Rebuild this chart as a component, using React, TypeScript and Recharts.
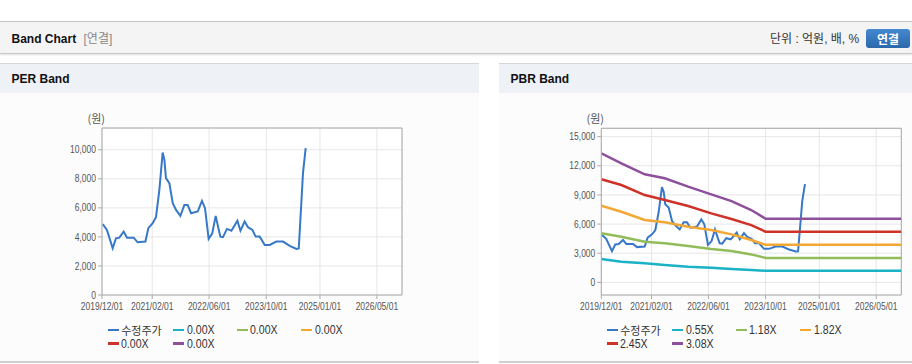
import React from 'react';
import { LineChart, Line, XAxis, YAxis, CartesianGrid, ReferenceLine } from 'recharts';

// adjusted close price (수정주가)
const priceDates = [
  '2019-12-07', '2020-01-12', '2020-03-01', '2020-03-29', '2020-04-27', '2020-06-03', '2020-07-01',
  '2020-08-27', '2020-09-30', '2020-12-05', '2020-12-30', '2021-02-05', '2021-03-05', '2021-04-03',
  '2021-05-01', '2021-05-16', '2021-05-29', '2021-06-27', '2021-07-26', '2021-08-23', '2021-09-29',
  '2021-11-02', '2021-11-30', '2021-12-29', '2022-02-24', '2022-04-01', '2022-04-27', '2022-05-28',
  '2022-06-28', '2022-07-27', '2022-08-16', '2022-09-05', '2022-09-27', '2022-10-31', '2022-12-08',
  '2023-01-28', '2023-02-23', '2023-03-31', '2023-04-28', '2023-06-05', '2023-07-03', '2023-08-06',
  '2023-09-18', '2023-10-30', '2023-12-26', '2024-02-21', '2024-04-18', '2024-06-14', '2024-07-04',
  '2024-07-21', '2024-08-09', '2024-09-01',
];
const priceValues = [
  4880, 4480, 3220, 3900, 3950, 4370, 3950,
  3950, 3630, 3680, 4600, 4940, 5360, 7240,
  9810, 9310, 8050, 7700, 6320, 5860, 5450,
  6200, 6200, 5630, 5750, 6480, 5980, 3860,
  4250, 5450, 4710, 4020, 3980, 4550, 4430,
  5120, 4430, 5060, 4670, 4480, 4020, 4020,
  3450, 3450, 3680, 3680, 3380, 3170, 3200,
  5630, 8390, 10120,
];

// PBR band lines (price = BPS x multiple)
const bandDates = [
  '2019-12-01', '2020-05-20', '2020-12-05', '2021-05-25', '2021-12-10',
  '2022-06-25', '2022-12-15', '2023-06-01', '2023-10-01', '2026-12-01',
];
const band055 = [2400, 2120, 1960, 1780, 1610, 1500, 1370, 1270, 1190, 1190];
const band118 = [5050, 4700, 4180, 4020, 3740, 3430, 3220, 2880, 2520, 2520];
const band182 = [7890, 7270, 6420, 6180, 5730, 5390, 4940, 4360, 3860, 3860];
const band245 = [10610, 10020, 8990, 8480, 7860, 7100, 6520, 5900, 5220, 5220];
const band308 = [13280, 12260, 11120, 10710, 9850, 9060, 8370, 7450, 6550, 6550];

const xTickLabels = ['2019/12/01', '2021/02/01', '2022/06/01', '2023/10/01', '2025/01/01', '2026/05/01'];
const xDomainLabels = ['2019/12/01', '2026/12/01'];
const perYTicks = [0, 2000, 4000, 6000, 8000, 10000];
const pbrYTicks = [0, 3000, 6000, 9000, 12000, 15000];

const colors = ['#3778c8', '#1ab2c4', '#92bc5a', '#f3a834', '#ce3228', '#8e509c'];
const perLegend = ['수정주가', '0.00X', '0.00X', '0.00X', '0.00X', '0.00X'];
const pbrLegend = ['수정주가', '0.55X', '1.18X', '1.82X', '2.45X', '3.08X'];

const toTime = (d: string) => new Date(d.replace(/\//g, '-') + 'T00:00:00Z').getTime();
const pad = (n: number) => (n < 10 ? '0' + n : '' + n);
const fmtDate = (t: number) => {
  const d = new Date(t);
  return `${d.getUTCFullYear()}/${pad(d.getUTCMonth() + 1)}/${pad(d.getUTCDate())}`;
};
const fmtNum = (v: number) => v.toLocaleString('en-US');

const priceData = priceDates.map((d, i) => ({ t: toTime(d), v: priceValues[i] }));
const bands = [band055, band118, band182, band245, band308].map((vals) =>
  bandDates.map((d, i) => ({ t: toTime(d), v: vals[i] }))
);
const xTicks = xTickLabels.map(toTime);
const xDomain = xDomainLabels.map(toTime);

const sans = "'Liberation Sans', Arial, 'Noto Sans CJK KR', sans-serif";
const axisGray = '#aaaaaa';

// condensed tick text, the original uses a narrow bitmap-ish font
const XTick = (props: any) => {
  const { x, y, payload } = props;
  return (
    <text transform={`translate(${x},${y}) scale(0.85,1)`} textAnchor="middle" dy={9.5}
      fontSize={10} fill="#555" fontFamily={sans}>
      {fmtDate(payload.value)}
    </text>
  );
};
const YTick = (props: any) => {
  const { x, y, payload } = props;
  return (
    <text transform={`translate(${x},${y}) scale(0.85,1)`} textAnchor="end" dy={3.6}
      fontSize={10} fill="#555" fontFamily={sans}>
      {fmtNum(payload.value)}
    </text>
  );
};

const Legend6 = ({ labels, left }: { labels: string[]; left: number }) => {
  const widths = [65.5, 63.5, 64.5, 64];
  const rows = [labels.slice(0, 4), labels.slice(4)];
  return (
    <div style={{ position: 'absolute', left, top: 323, fontFamily: sans, fontSize: 12, color: '#333' }}>
      {rows.map((row, r) => (
        <div key={r} style={{ display: 'flex', height: 13.7, alignItems: 'center' }}>
          {row.map((label, i) => (
            <div key={i} style={{ width: widths[i], display: 'flex', alignItems: 'center', whiteSpace: 'nowrap' }}>
              <span style={{ display: 'inline-block', width: 11, height: 2.5, background: colors[r * 4 + i], marginRight: 2.5 }} />
              <span style={{ display: 'inline-block', fontSize: label === '수정주가' ? 11 : 12, transform: label === '수정주가' ? 'none' : 'scaleX(0.88)', transformOrigin: 'left center' }}>{label}</span>
            </div>
          ))}
        </div>
      ))}
    </div>
  );
};

const Panel = ({ left, width, title }: { left: number; width: number; title: string }) => (
  <div style={{ position: 'absolute', left, top: 63, width, height: 300, background: '#fcfcfc', borderTop: '1px solid #d6d6d6', borderBottom: '2px solid #d0d0d0', boxSizing: 'border-box' }}>
    <div style={{ height: 29, background: '#eef2f7', fontFamily: sans, fontWeight: 'bold', fontSize: 12, color: '#111', lineHeight: '30px', paddingLeft: 11.5 }}>
      {title}
    </div>
  </div>
);

const UnitLabel = ({ left }: { left: number }) => (
  <div style={{ position: 'absolute', left, top: 111, fontFamily: "'Noto Sans CJK KR', sans-serif", fontSize: 11, color: '#555', lineHeight: '14px' }}>
    (원)
  </div>
);

const App: React.FC = () => {
  return (
    <div style={{ position: 'absolute', left: 0, top: 0, width: 912, height: 364, background: '#fff', overflow: 'hidden' }}>
      {/* top header bar */}
      <div style={{ position: 'absolute', left: 0, top: 21, width: 912, height: 31, background: '#f4f4f4', borderTop: '1px solid #c4c4c4', borderBottom: '1px solid #c8c8c8', boxShadow: '0 1px 2px rgba(0,0,0,0.12)' }} />
      <div style={{ position: 'absolute', left: 11.5, top: 31, fontFamily: sans, fontWeight: 'bold', fontSize: 12, color: '#111', lineHeight: '16px' }}>
        Band Chart <span style={{ fontWeight: 'normal', color: '#888', marginLeft: 4 }}>[연결]</span>
      </div>
      <div style={{ position: 'absolute', left: 770, top: 31, fontFamily: sans, fontSize: 12, color: '#333', lineHeight: '16px', whiteSpace: 'nowrap' }}>
        단위 : 억원, 배, %
      </div>
      <div style={{ position: 'absolute', left: 866, top: 28.5, width: 44, height: 19, borderRadius: 3, background: 'linear-gradient(#4489cf, #2a68ab)', color: '#fff', fontFamily: "'Noto Sans CJK KR', sans-serif", fontWeight: 'bold', fontSize: 12, lineHeight: '19px', textAlign: 'center' }}>
        연결
      </div>

      <Panel left={0} width={479} title="PER Band" />
      <Panel left={499} width={413} title="PBR Band" />

      {/* PER chart */}
      <UnitLabel left={87.5} />
      <div style={{ position: 'absolute', left: 0, top: 100 }}>
        <LineChart width={479} height={220} margin={{ top: 28, right: 77, bottom: 0, left: 0 }}>
          <CartesianGrid stroke="#e6e6e6" fill="#ffffff" />
          <XAxis dataKey="t" type="number" domain={xDomain} ticks={xTicks}
            allowDataOverflow height={25} stroke={axisGray} tickSize={4} tickMargin={2} tick={<XTick />} interval={0} />
          <YAxis type="number" domain={[0, 11500]} ticks={perYTicks} allowDataOverflow width={102}
            stroke={axisGray} tickSize={4} tickMargin={2} tick={<YTick />} />
          <ReferenceLine y={11500} stroke={axisGray} />
          <ReferenceLine x={xDomain[1]} stroke={axisGray} />
          <Line data={priceData} dataKey="v" type="linear" stroke={colors[0]} strokeWidth={2} dot={false} isAnimationActive={false} />
        </LineChart>
      </div>
      <Legend6 labels={perLegend} left={107.7} />

      {/* PBR chart */}
      <UnitLabel left={586.5} />
      <div style={{ position: 'absolute', left: 499, top: 100 }}>
        <LineChart width={413} height={220} margin={{ top: 28.3, right: 10.7, bottom: 0, left: 0 }}>
          <CartesianGrid stroke="#e6e6e6" fill="#ffffff" />
          <XAxis dataKey="t" type="number" domain={xDomain} ticks={xTicks}
            allowDataOverflow height={25} stroke={axisGray} tickSize={4} tickMargin={2} tick={<XTick />} interval={0} />
          <YAxis type="number" domain={[-1300, 15860]} ticks={pbrYTicks} allowDataOverflow width={102.3}
            stroke={axisGray} tickSize={4} tickMargin={2} tick={<YTick />} />
          <ReferenceLine y={15860} stroke={axisGray} />
          <ReferenceLine x={xDomain[1]} stroke={axisGray} />
          <Line data={priceData} dataKey="v" type="linear" stroke={colors[0]} strokeWidth={2} dot={false} isAnimationActive={false} />
          {bands.map((b, i) => (
            <Line key={i} data={b} dataKey="v" type="linear" stroke={colors[i + 1]} strokeWidth={2.5} dot={false} isAnimationActive={false} />
          ))}
        </LineChart>
      </div>
      <Legend6 labels={pbrLegend} left={606.7} />
    </div>
  );
};

export default App;
